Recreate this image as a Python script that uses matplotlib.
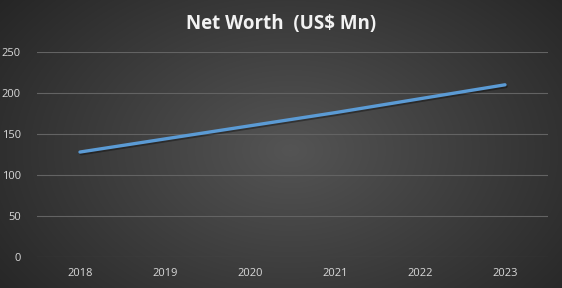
import numpy as np
import matplotlib.pyplot as plt
import matplotlib.patheffects as pe

years = ['2018', '2019', '2020', '2021', '2022', '2023']
net_worth = [128, 144, 160, 176, 193, 210]

plt.rcParams['font.family'] = ['Open Sans', 'DejaVu Sans']

fig = plt.figure(figsize=(5.62, 2.88), dpi=100)

# radial gradient background
bg = fig.add_axes([0, 0, 1, 1], zorder=0)
yy, xx = np.mgrid[0:288, 0:562]
r = np.sqrt(((xx - 290) / 340.0) ** 2 + ((yy - 150) / 230.0) ** 2)
shade = np.clip(0.33 - 0.17 * r, 0.14, 0.33)
bg.imshow(np.dstack([shade] * 3), aspect='auto', extent=[0, 1, 0, 1])
bg.axis('off')

ax = fig.add_axes([37.5 / 562, 1 - 257 / 288, 510 / 562, 205 / 288], zorder=1)
ax.patch.set_alpha(0)
x = np.arange(len(years))
ax.plot(x, net_worth, color='#5B9BD5', lw=2.4, solid_capstyle='round',
        path_effects=[pe.SimpleLineShadow(offset=(0.8, -1.2), alpha=0.35, shadow_color='black'), pe.Normal()])

ax.set_xlim(-0.5, len(years) - 0.5)
ax.set_ylim(0, 250)
ax.set_yticks(range(0, 251, 50))
ax.set_xticks(x)
ax.set_xticklabels(years)
ax.grid(axis='y', color='#636363', lw=0.8)
ax.set_axisbelow(True)
for s in ax.spines.values():
    s.set_visible(False)
ax.tick_params(length=0, colors='#d9d9d9', labelsize=8, pad=8)
ax.tick_params(axis='y', pad=12)

fig.text(0.5, 0.918, 'Net Worth  (US$ Mn)', ha='center', va='center',
         color='#f2f2f2', fontsize=13.5, fontweight='bold')

plt.savefig('out.png', dpi=100)
